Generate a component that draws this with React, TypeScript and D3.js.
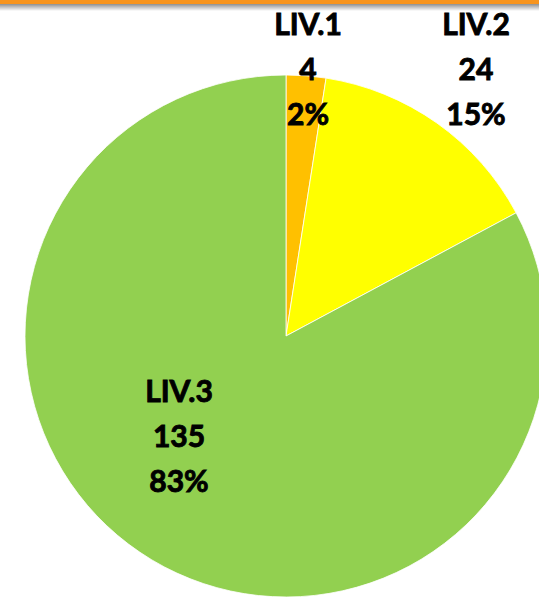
import React from "react";
import * as d3 from "d3";

const categories = ["LIV.1", "LIV.2", "LIV.3"];
const values = [4, 24, 135];
const percents = ["2%", "15%", "83%"];
const colors = ["#FFC000", "#FFFF00", "#92D050"];

// label anchor (middle line baseline) relative to the pie centre
const labelOffsets = [
  [22, -256],
  [190, -256],
  [-107, 111],
];

export default function App() {
  const width = 539;
  const height = 597;
  const cx = 286;
  const cy = 336;
  const radius = 261;
  const lineGap = 45;

  const pie = d3
    .pie<number>()
    .sort(null)
    .value((d) => d);
  const arcs = pie(values);
  const arc = d3.arc<d3.PieArcDatum<number>>().innerRadius(0).outerRadius(radius);

  return (
    <svg
      width={width}
      height={height}
      style={{ position: "fixed", left: 0, top: 0, background: "#fff" }}
    >
      <defs>
        <linearGradient id="shadow" x1="0" y1="0" x2="0" y2="1">
          <stop offset="0%" stopColor="#7f7f7f" />
          <stop offset="100%" stopColor="#ffffff" />
        </linearGradient>
      </defs>
      <rect x={0} y={3} width={width} height={8} fill="url(#shadow)" />
      <rect x={0} y={0} width={width} height={4} fill="#F7941D" />

      <g transform={`translate(${cx},${cy})`}>
        {arcs.map((a, i) => (
          <path
            key={categories[i]}
            d={arc(a) || ""}
            fill={colors[i]}
            stroke="#ffffff"
            strokeWidth={0.8}
          />
        ))}
        {arcs.map((a, i) => {
          const [dx, dy] = labelOffsets[i];
          const lines = [categories[i], String(values[i]), percents[i]];
          return (
            <text
              key={"l" + i}
              x={dx}
              y={dy}
              textAnchor="middle"
              fontFamily="Lato, 'Open Sans', sans-serif"
              fontWeight="bold"
              fontSize={30}
              fill="#000"
              stroke="#000"
              strokeWidth={0.9}
            >
              {lines.map((t, j) => (
                <tspan key={j} x={dx} y={dy + (j - 1) * lineGap}>
                  {t}
                </tspan>
              ))}
            </text>
          );
        })}
      </g>
    </svg>
  );
}
